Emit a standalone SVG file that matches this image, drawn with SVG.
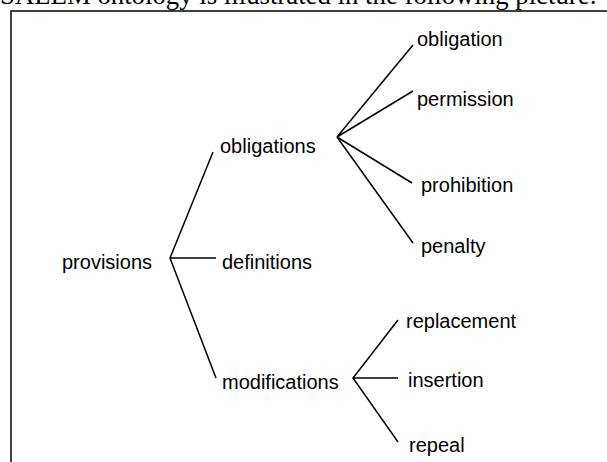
<svg xmlns="http://www.w3.org/2000/svg" width="607" height="462" viewBox="0 0 607 462">
<style>
.lbl{font-family:"Liberation Sans",Arial,sans-serif;font-size:20px;fill:#000}
.cap{font-family:"Liberation Serif","Times New Roman",serif;font-size:27px;fill:#000}
.ln{stroke:#000;stroke-width:1.5;fill:none}
</style>
<rect width="607" height="462" fill="#fff"/>
<text class="cap" x="0" y="4" textLength="597" lengthAdjust="spacingAndGlyphs">SALEM ontology is illustrated in the following picture:</text>
<path class="ln" d="M11,462 V11 H607"/>
<g id="connectors">
<path class="ln" d="M213,152 L170,258 L216,378 M170,258 H216"/>
<path class="ln" d="M413,45 L337,137 L413,91 M337,137 L412,183 M337,137 L413,243"/>
<path class="ln" d="M398,320 L353,378 L398,442 M353,378 H398"/>
</g>
<g id="provisions"><text class="lbl" x="62" y="269">provisions</text></g>
<g id="obligations"><text class="lbl" x="220" y="153">obligations</text></g>
<g id="definitions"><text class="lbl" x="222" y="269">definitions</text></g>
<g id="modifications"><text class="lbl" x="222" y="389">modifications</text></g>
<g id="obligation"><text class="lbl" x="417" y="46">obligation</text></g>
<g id="permission"><text class="lbl" x="417" y="106">permission</text></g>
<g id="prohibition"><text class="lbl" x="421" y="192">prohibition</text></g>
<g id="penalty"><text class="lbl" x="421" y="253">penalty</text></g>
<g id="replacement"><text class="lbl" x="406" y="328">replacement</text></g>
<g id="insertion"><text class="lbl" x="408" y="387">insertion</text></g>
<g id="repeal"><text class="lbl" x="409" y="452">repeal</text></g>
</svg>
